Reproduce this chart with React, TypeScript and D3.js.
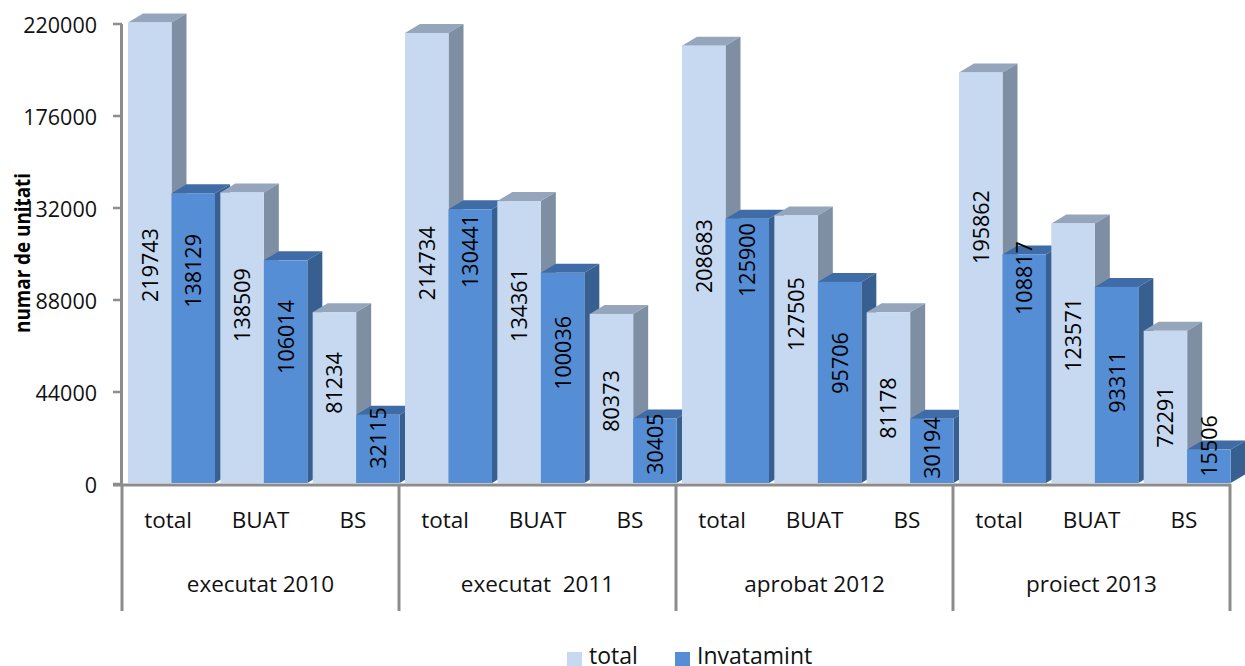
import React from "react";
import * as d3 from "d3";

// ---- data ----
const groups = ["executat 2010", "executat  2011", "aprobat 2012", "proiect 2013"];
const subCategories = ["total", "BUAT", "BS"];
const seriesNames = ["total", "Invatamint"];
const totalValues = [219743, 138509, 81234, 214734, 134361, 80373, 208683, 127505, 81178, 195862, 123571, 72291];
const invatamintValues = [138129, 106014, 32115, 130441, 100036, 30405, 125900, 95706, 30194, 108817, 93311, 15506];
const yTicks = [0, 44000, 88000, 132000, 176000, 220000];
// where each hand-placed data label sits, in axis units
const totalLabelAnchors = [104700, 85600, 48300, 105500, 85600, 39700, 109000, 81300, 36300, 122900, 71300, 32000];
const invatamintLabelAnchors = [101900, 70300, 22000, 111400, 62700, 19100, 107100, 57900, 17200, 98500, 48800, 18200];

// ---- layout & style ----
const W = 1245, H = 666;
const AXIS = "#8c8c8c";
const FONT = "'Open Sans', sans-serif";
const DX = 15, DY = 9, LIFT = 2;
const palette = [
  { front: "#c6d9f1", top: "#95a6bc", side: "#7f8fa3" },
  { front: "#558ed5", top: "#3f6ca6", side: "#375f8f" },
];

export default function App() {
  const y = d3.scaleLinear().domain([0, 220000]).range([484, 24]);
  const xGroup = d3.scaleBand().domain(groups).range([122, 1230]);
  const xSub = d3.scaleBand().domain(subCategories).range([0, xGroup.bandwidth()]);
  const xSeries = d3.scaleBand().domain(seriesNames).range([6, 93]);
  const seriesValues = [totalValues, invatamintValues];
  const seriesAnchors = [totalLabelAnchors, invatamintLabelAnchors];
  const poly = d3.line();

  const bars: any[] = [];
  groups.forEach((g, gi) =>
    subCategories.forEach((c, ci) =>
      seriesNames.forEach((s, si) => {
        const idx = gi * 3 + ci;
        const x0 = xGroup(g)! + xSub(c)! + xSeries(s)!;
        const x1 = x0 + xSeries.bandwidth();
        bars.push({
          key: `${g}-${c}-${s}`,
          si, x0, x1,
          top: y(seriesValues[si][idx]) - LIFT,
          bottom: y(0) - 1,
          value: seriesValues[si][idx],
          labelY: y(seriesAnchors[si][idx]),
        });
      })
    )
  );

  return (
    <svg width={W} height={H} style={{ position: "absolute", left: 0, top: 0, display: "block", background: "#fff" }}>
      {/* bars, painted left to right so each front covers the previous side */}
      {bars.map((b) => (
        <g key={b.key}>
          <path fill={palette[b.si].top} d={poly([[b.x0, b.top], [b.x0 + DX, b.top - DY], [b.x1 + DX, b.top - DY], [b.x1, b.top]])! + "Z"} />
          <path fill={palette[b.si].side} d={poly([[b.x1, b.top], [b.x1 + DX, b.top - DY], [b.x1 + DX, b.bottom - DY], [b.x1, b.bottom]])! + "Z"} />
          <rect x={b.x0} y={b.top} width={b.x1 - b.x0} height={b.bottom - b.top} fill={palette[b.si].front} />
        </g>
      ))}

      {/* value axis */}
      <line x1={121.5} x2={121.5} y1={y(220000)} y2={y(0)} stroke={AXIS} strokeWidth={3} />
      {yTicks.map((t) => (
        <g key={t}>
          <line x1={113} x2={122} y1={y(t)} y2={y(t)} stroke={AXIS} strokeWidth={2.5} />
          <text x={97} y={y(t) + 9} textAnchor="end" fontFamily={FONT} fontSize={21.5} fill="#111">{t}</text>
        </g>
      ))}

      {/* category axis */}
      <line x1={113} x2={1231} y1={485} y2={485} stroke={AXIS} strokeWidth={3} />
      {[...groups.map((g) => xGroup(g)!), 1230].map((x, i) => (
        <line key={i} x1={x} x2={x} y1={484} y2={611} stroke={AXIS} strokeWidth={3} />
      ))}
      {groups.map((g) => (
        <g key={g}>
          {subCategories.map((c) => (
            <text key={c} x={xGroup(g)! + xSub(c)! + xSub.bandwidth() / 2} y={528} textAnchor="middle" fontFamily={FONT} fontSize={22.5} fill="#111">{c}</text>
          ))}
          <text x={xGroup(g)! + xGroup.bandwidth() / 2} y={592} textAnchor="middle" fontFamily={FONT} fontSize={22.5} fill="#111" style={{ whiteSpace: "pre" }}>{g}</text>
        </g>
      ))}

      {/* data labels */}
      {bars.map((b) => (
        <text
          key={b.key}
          transform={`translate(${(b.x0 + b.x1) / 2 + 8},${b.labelY}) rotate(-90)`}
          textAnchor="middle"
          fontFamily={FONT}
          fontSize={21.5}
          fill="#000"
        >
          {b.value}
        </text>
      ))}

      {/* axis title */}
      <text
        transform="translate(30,253) rotate(-90)"
        textAnchor="middle"
        fontFamily={FONT}
        fontWeight={700}
        fontSize={22}
        textLength={160}
        lengthAdjust="spacingAndGlyphs"
        fill="#000"
      >
        numar de unitati
      </text>

      {/* legend */}
      {seriesNames.map((s, i) => {
        const lx = d3.scaleOrdinal<string, number>().domain(seriesNames).range([567, 675])(s);
        return (
          <g key={s}>
            <rect x={lx} y={652} width={15} height={14} fill={palette[i].front} />
            <text x={lx + 22} y={664} fontFamily={FONT} fontSize={23} fill="#111">{s}</text>
          </g>
        );
      })}
    </svg>
  );
}
